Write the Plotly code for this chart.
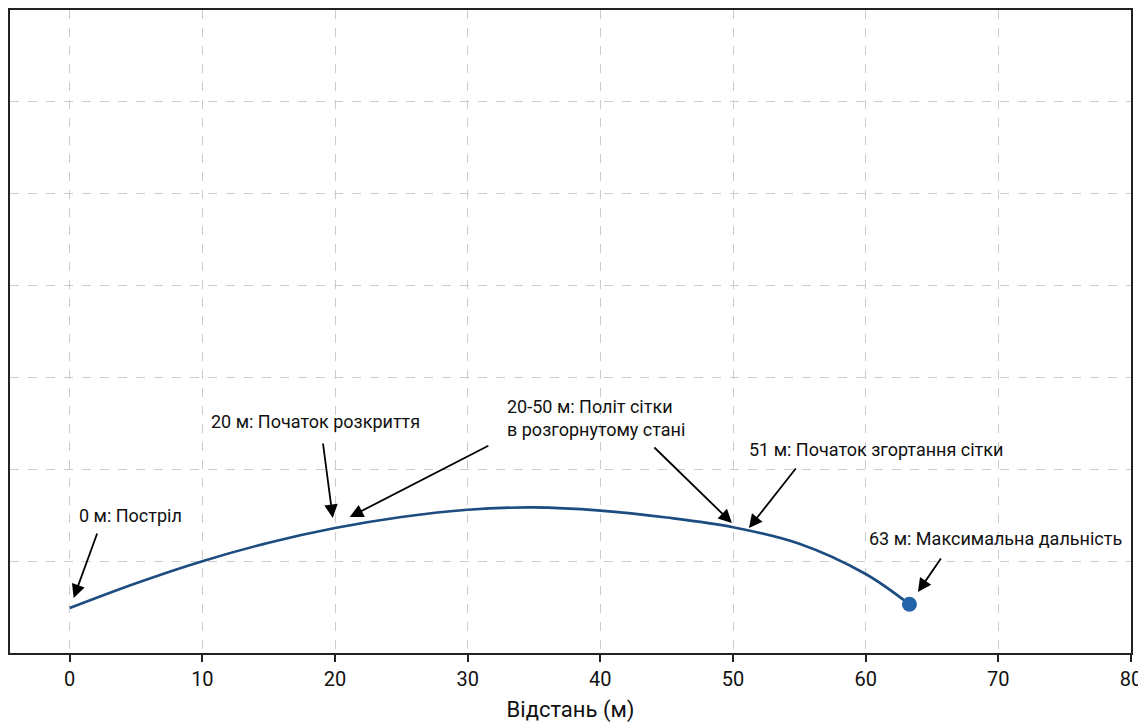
import plotly.graph_objects as go

# Trajectory (distance in m, height units)
distance = [0, 5, 10, 15, 20, 25, 30, 35, 40, 45, 50, 55, 60, 63.3]
height = [0.49, 0.76, 1.0, 1.2, 1.36, 1.48, 1.56, 1.585, 1.55, 1.475, 1.37, 1.19, 0.86, 0.53]

end_x = [63.3]
end_y = [0.53]

x_ticks = [0, 10, 20, 30, 40, 50, 60, 70, 80]
y_ticks = [1, 2, 3, 4, 5, 6]

FONT = "Roboto"

fig = go.Figure()
fig.add_trace(go.Scatter(x=distance, y=height, mode="lines", line=dict(color="#1c4c80", width=2.6, shape="spline", smoothing=1.0),
                         showlegend=False, hoverinfo="skip"))
fig.add_trace(go.Scatter(x=end_x, y=end_y, mode="markers", marker=dict(color="#2364a8", size=15),
                         showlegend=False, hoverinfo="skip"))

# arrows: (tail_x, tail_y, tip_x, tip_y)
arrows = [
    (2.11, 1.317, 0.30, 0.60),
    (19.08, 2.297, 19.83, 1.47),
    (31.67, 2.264, 21.11, 1.48),
    (43.96, 2.253, 49.92, 1.415),
    (54.82, 2.025, 51.2, 1.36),
    (65.75, 1.045, 63.94, 0.664),
]
for tx, ty, hx, hy in arrows:
    fig.add_annotation(x=hx, y=hy, ax=tx, ay=ty, xref="x", yref="y", axref="x", ayref="y",
                       showarrow=True, arrowhead=2, arrowsize=1.5, arrowwidth=1.8, arrowcolor="black", text="")

labels = [
    (0.53, 1.50, "0 м: Постріл"),
    (10.48, 2.515, "20 м: Початок розкриття"),
    (32.8, 2.56, "20-50 м: Політ сітки<br>в розгорнутому стані"),
    (51.05, 2.22, "51 м: Початок згортання сітки"),
    (60.1, 1.25, "63 м: Максимальна дальність"),
]
for lx, ly, t in labels:
    fig.add_annotation(x=lx, y=ly, xref="x", yref="y", text=t, showarrow=False, xanchor="left", yanchor="middle",
                       align="left", font=dict(family=FONT, size=18, color="#111111"))

fig.update_xaxes(range=[-4.5, 80], tickvals=x_ticks, showgrid=True, gridcolor="#cccccc", griddash="dash", gridwidth=1,
                 showline=True, linecolor="#222222", linewidth=1.5, mirror=True, ticks="outside", ticklen=7,
                 tickwidth=1.5, tickcolor="#222222", zeroline=False, automargin=False,
                 tickfont=dict(family=FONT, size=20, color="#111111"),
                 title=dict(text="Відстань (м)", font=dict(family=FONT, size=22, color="#111111"), standoff=12))
fig.update_yaxes(range=[0, 7], tickvals=y_ticks, showticklabels=False, showgrid=True, gridcolor="#cccccc",
                 griddash="dash", gridwidth=1, showline=True, linecolor="#222222", linewidth=1.5, mirror=True,
                 ticks="outside", ticklen=8, tickwidth=1.5, tickcolor="#222222", zeroline=False, automargin=False)

# page body adds an ~8px offset; sizes compensate so the plot frame lands at x 10-1131, y 10-653
fig.update_layout(width=1138, height=715, margin=dict(l=2, r=15, t=2, b=70),
                  paper_bgcolor="white", plot_bgcolor="white")

fig.write_html("out.html")
